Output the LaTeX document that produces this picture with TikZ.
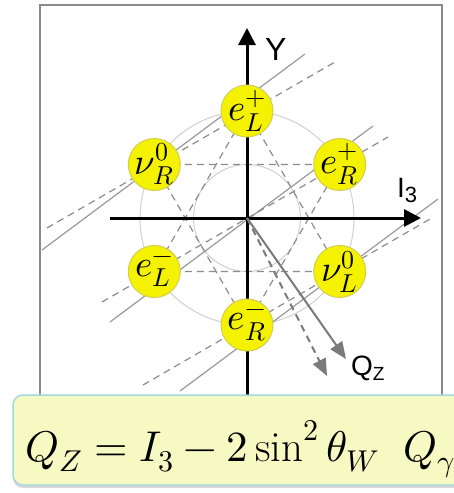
\documentclass[tikz,border=0pt]{standalone}
\usepackage{fontspec}
\usepackage{unicode-math}
\setmathfont{Latin Modern Math}
\newfontfamily\lsans{Liberation Sans}
\usetikzlibrary{arrows.meta,shadows}
\pgfdeclarelayer{bg}
\pgfdeclarelayer{fg}
\pgfsetlayers{bg,main,fg}
\definecolor{nodeyellow}{HTML}{F5F200}
\definecolor{nodering}{HTML}{D2CE52}
\definecolor{framegray}{HTML}{8A8A8A}
\definecolor{circgray}{HTML}{D0D0D0}
\definecolor{linegray}{HTML}{9A9A9A}
\definecolor{dashgray}{HTML}{8C8C8C}
\definecolor{arrowgray}{HTML}{7A7A7A}
\definecolor{boxfill}{HTML}{F7F9C2}
\definecolor{boxborder}{HTML}{A4D8E2}
\begin{document}
\begin{tikzpicture}[x=1pt,y=-1pt,
  pnode/.style={circle,fill=nodeyellow,draw=nodering,line width=1pt,minimum size=52pt,inner sep=0pt},
  plabel/.style={inner sep=0pt,font=\fontsize{37}{37}\selectfont},
  qline/.style={linegray,line width=1.2pt},
  qdash/.style={dashgray,line width=1.2pt,dash pattern=on 7pt off 5pt},
  tridash/.style={dashgray,line width=1.2pt,dash pattern=on 7pt off 5pt},
  axisline/.style={black,line width=3pt,-{Triangle[width=17pt,length=17pt]}},
  qarrow/.style={arrowgray,line width=2pt,-{Triangle[width=14pt,length=17pt]}},
  alabel/.style={inner sep=0pt,anchor=base west},
]
\useasboundingbox (0,0) rectangle (454,493);
\coordinate (O) at (247,218);
% particles
\node[pnode] (eLp) at (247,111) {};
\node[pnode] (eRp) at (339.7,164.5) {};
\node[pnode] (nuR) at (154.3,164.5) {};
\node[pnode] (eLm) at (154.3,271.5) {};
\node[pnode] (nuL) at (339.7,271.5) {};
\node[pnode] (eRm) at (247,325) {};
\node[plabel] (eLpT) at (eLp) {$e_L^+$};
\node[plabel] (eRpT) at (eRp) {$e_R^+$};
\node[plabel] (nuRT) at (nuR) {$\nu_R^0$};
\node[plabel] (eLmT) at (eLm) {$e_L^-$};
\node[plabel] (nuLT) at (nuL) {$\nu_L^0$};
\node[plabel] (eRmT) at (eRm) {$e_R^-$};
% line ends
\coordinate (s1a) at (42,250); \coordinate (s1b) at (305,54);
\coordinate (s2a) at (110,322); \coordinate (s2b) at (373,126);
\coordinate (s3a) at (180,391); \coordinate (s3b) at (438,199);
\coordinate (d1a) at (47,228); \coordinate (d1b) at (335,62);
\coordinate (d2a) at (102,302); \coordinate (d2b) at (388,137);
\coordinate (d3a) at (143,385); \coordinate (d3b) at (430,219);
\coordinate (ybot) at (247,430); \coordinate (ytop) at (247,28);
\coordinate (xl) at (110,218); \coordinate (xr) at (421,218);
\coordinate (qs) at (346,359); \coordinate (qd) at (327,376);
\begin{pgfonlayer}{bg}
  \fill[white] (0,0) rectangle (454,493);
  \draw[framegray,line width=2pt] (40,5) rectangle (442,440);
  \draw[circgray,line width=1pt] (O) circle[radius=107];
  \draw[circgray,line width=1pt] (O) circle[radius=53.5];
  \draw[tridash] (eLp.center) -- (eLm.center) -- (nuL.center) -- cycle;
  \draw[tridash] (eRm.center) -- (nuR.center) -- (eRp.center) -- cycle;
  \draw[qline] (s1a) -- (s1b);
  \draw[qline] (s2a) -- (s2b);
  \draw[qline] (s3a) -- (s3b);
  \draw[qdash] (d1a) -- (d1b);
  \draw[qdash] (d2a) -- (d2b);
  \draw[qdash] (d3a) -- (d3b);
  \draw[axisline] (ybot) -- (ytop);
  \draw[axisline] (xl) -- (xr);
  \draw[qarrow,dash pattern=on 7pt off 5pt] (O) -- (qd);
  \draw[qarrow] (O) -- (qs);
\end{pgfonlayer}
\node[alabel,font=\lsans\fontsize{32}{32}\selectfont] (ylab) at (265,60) {Y};
\node[alabel,font=\lsans\fontsize{28}{28}\selectfont] (ilab) at (397,197.5) {I\raisebox{-5pt}{\fontsize{22}{22}\selectfont 3}};
\node[alabel,font=\lsans\fontsize{28}{28}\selectfont] (qlab) at (351,375) {Q\raisebox{-5pt}{\fontsize{19}{19}\selectfont Z}};
\begin{pgfonlayer}{fg}
  \draw[boxborder,fill=boxfill,line width=1.5pt,rounded corners=10pt,
        drop shadow={opacity=0.3,shadow xshift=0pt,shadow yshift=-3pt}] (13,395) rectangle (490,485);
  \node[anchor=base west,inner sep=0pt,font=\fontsize{43}{43}\selectfont] (formula) at (25,461)
    {$Q_Z = I_3 - 2\sin^2\theta_W\;\hspace{12pt}Q_\gamma$};
\end{pgfonlayer}
\end{tikzpicture}
\end{document}
